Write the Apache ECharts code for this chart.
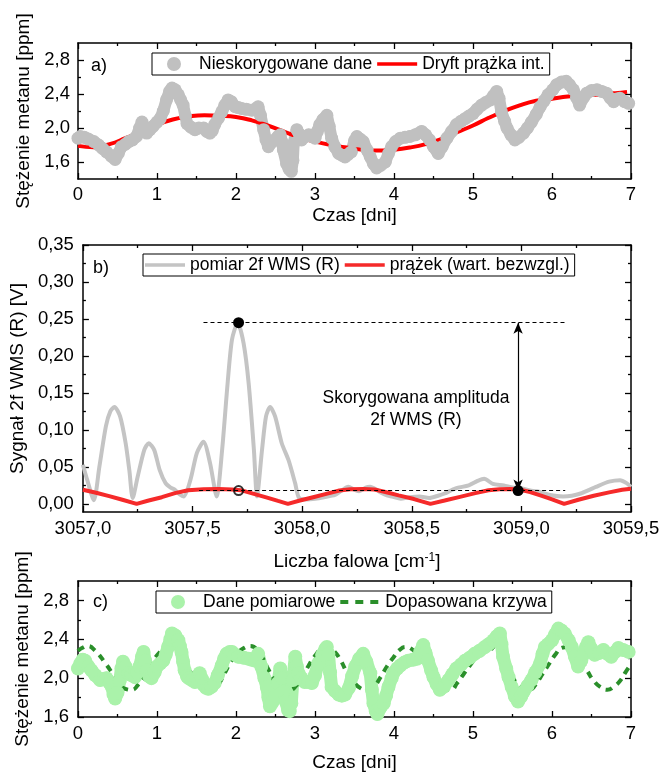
<!DOCTYPE html>
<html>
<head>
<meta charset="utf-8">
<script src="https://cdn.jsdelivr.net/npm/echarts@6/dist/echarts.min.js"></script>
<style>
  html, body { margin: 0; padding: 0; background: #fff; }
  #chart { width: 664px; height: 773px; }
</style>
</head>
<body>
<div id="chart"></div>
<script>
const FONT = '"Liberation Sans", Arial, Helvetica, sans-serif';

// ---- (a) uncorrected methane concentration vs. time [day, ppm]
const rawPpm = [
  [0.00,1.88],[0.03,1.90],[0.08,1.89],[0.13,1.87],[0.20,1.84],[0.26,1.80],[0.31,1.76],[0.36,1.72],
  [0.42,1.67],[0.47,1.63],[0.51,1.70],[0.55,1.78],[0.60,1.81],[0.64,1.84],[0.69,1.86],[0.74,1.90],
  [0.78,2.00],[0.81,2.07],[0.84,2.00],[0.87,1.94],[0.91,1.98],[0.95,2.02],[1.00,2.07],[1.04,2.11],
  [1.08,2.20],[1.12,2.33],[1.16,2.43],[1.19,2.47],[1.23,2.45],[1.27,2.39],[1.30,2.33],[1.33,2.27],
  [1.36,2.14],[1.38,2.05],[1.43,2.01],[1.48,1.98],[1.53,2.00],[1.59,2.00],[1.63,1.96],[1.67,1.94],
  [1.70,1.97],[1.73,2.04],[1.78,2.12],[1.82,2.19],[1.86,2.27],[1.90,2.33],[1.94,2.31],[1.99,2.25],
  [2.03,2.24],[2.07,2.23],[2.13,2.22],[2.20,2.21],[2.24,2.22],[2.28,2.25],[2.31,2.15],[2.35,1.98],
  [2.38,1.86],[2.41,1.78],[2.45,1.83],[2.49,1.86],[2.53,1.90],[2.56,1.92],[2.58,1.84],[2.60,1.74],
  [2.64,1.58],[2.67,1.52],[2.70,1.49],[2.72,1.62],[2.73,1.82],[2.77,1.98],[2.80,1.93],[2.83,1.86],
  [2.88,1.90],[2.92,1.92],[2.96,1.90],[3.00,1.88],[3.03,1.96],[3.06,2.04],[3.10,2.10],[3.15,2.15],
  [3.18,2.02],[3.21,1.88],[3.25,1.78],[3.30,1.70],[3.34,1.68],[3.38,1.66],[3.42,1.69],[3.46,1.72],
  [3.50,1.85],[3.53,1.90],[3.57,1.87],[3.61,1.84],[3.66,1.74],[3.70,1.66],[3.74,1.58],[3.78,1.53],
  [3.83,1.56],[3.89,1.60],[3.93,1.70],[3.97,1.78],[4.02,1.84],[4.08,1.88],[4.14,1.89],[4.20,1.90],
  [4.27,1.92],[4.35,1.96],[4.40,1.92],[4.45,1.86],[4.50,1.78],[4.56,1.70],[4.61,1.78],[4.67,1.88],
  [4.73,1.96],[4.79,2.04],[4.85,2.08],[4.90,2.11],[4.95,2.14],[5.00,2.17],[5.05,2.22],[5.11,2.27],
  [5.16,2.30],[5.22,2.33],[5.26,2.38],[5.30,2.43],[5.33,2.35],[5.36,2.19],[5.40,2.08],[5.43,2.00],
  [5.48,1.92],[5.53,1.86],[5.58,1.89],[5.64,1.94],[5.69,2.00],[5.74,2.07],[5.80,2.16],[5.85,2.25],
  [5.90,2.32],[5.95,2.39],[6.01,2.45],[6.06,2.51],[6.12,2.54],[6.18,2.55],[6.22,2.51],[6.27,2.45],
  [6.31,2.36],[6.35,2.27],[6.40,2.36],[6.44,2.41],[6.50,2.44],[6.57,2.45],[6.63,2.43],[6.69,2.41],
  [6.74,2.35],[6.78,2.31],[6.82,2.34],[6.86,2.35],[6.92,2.31],[6.97,2.29]
];

// ---- (a) interferometric fringe drift [day, ppm]
const fringeDrift = [
  [0.0,1.79],[0.2,1.775],[0.4,1.81],[0.6,1.88],[0.8,1.96],[1.0,2.04],[1.2,2.10],[1.4,2.135],
  [1.6,2.15],[1.8,2.145],[2.0,2.13],[2.2,2.09],[2.4,2.03],[2.6,1.96],[2.8,1.89],[3.0,1.84],
  [3.2,1.80],[3.4,1.77],[3.6,1.745],[3.8,1.735],[4.0,1.745],[4.2,1.77],[4.4,1.81],[4.6,1.87],
  [4.8,1.95],[5.0,2.03],[5.2,2.12],[5.4,2.20],[5.6,2.27],[5.8,2.32],[6.0,2.345],[6.2,2.37],
  [6.4,2.385],[6.6,2.395],[6.8,2.41],[6.95,2.425]
];

// ---- (b) measured 2f WMS (R) signal [cm-1, V]
const wmsSignal = [
  [3057.00,0.053],[3057.02,0.032],[3057.05,0.005],[3057.075,0.050],[3057.105,0.105],[3057.125,0.125],
  [3057.144,0.131],[3057.17,0.118],[3057.195,0.082],[3057.212,0.045],[3057.227,0.008],[3057.25,0.037],
  [3057.28,0.073],[3057.30,0.082],[3057.325,0.073],[3057.35,0.046],[3057.377,0.028],[3057.40,0.022],
  [3057.42,0.019],[3057.44,0.013],[3057.46,0.010],[3057.49,0.032],[3057.52,0.069],[3057.55,0.084],
  [3057.58,0.055],[3057.61,0.010],[3057.635,0.073],[3057.66,0.163],[3057.68,0.222],[3057.706,0.245],
  [3057.733,0.217],[3057.756,0.163],[3057.78,0.073],[3057.794,0.010],[3057.817,0.073],[3057.835,0.118],
  [3057.854,0.131],[3057.877,0.118],[3057.907,0.082],[3057.938,0.059],[3057.968,0.028],[3057.986,0.008],
  [3058.02,0.006],[3058.06,0.007],[3058.10,0.009],[3058.15,0.012],[3058.18,0.018],[3058.21,0.023],
  [3058.24,0.019],[3058.26,0.017],[3058.29,0.022],[3058.31,0.023],[3058.34,0.019],[3058.36,0.015],
  [3058.39,0.011],[3058.41,0.010],[3058.45,0.007],[3058.49,0.009],[3058.535,0.010],[3058.58,0.008],
  [3058.62,0.011],[3058.65,0.014],[3058.70,0.021],[3058.76,0.025],[3058.80,0.031],[3058.83,0.034],
  [3058.87,0.027],[3058.92,0.025],[3058.96,0.022],[3059.00,0.021],[3059.04,0.018],[3059.07,0.017],
  [3059.13,0.012],[3059.19,0.010],[3059.23,0.011],[3059.27,0.014],[3059.31,0.019],[3059.34,0.023],
  [3059.40,0.030],[3059.45,0.032],[3059.48,0.028],[3059.50,0.023]
];

// ---- (b) fringe, absolute value [cm-1, V]
const fringeAbs = [
  [3057.00,0.019],[3057.06,0.015],[3057.12,0.0105],[3057.18,0.0055],[3057.245,0],[3057.30,0.0045],
  [3057.36,0.009],[3057.42,0.0145],[3057.48,0.0185],[3057.55,0.0198],[3057.62,0.020],[3057.68,0.0195],
  [3057.72,0.0185],[3057.78,0.0135],[3057.84,0.0085],[3057.89,0.004],[3057.935,0],[3057.99,0.0045],
  [3058.05,0.009],[3058.11,0.0135],[3058.17,0.018],[3058.22,0.0198],[3058.28,0.020],[3058.33,0.0195],
  [3058.38,0.016],[3058.44,0.0115],[3058.51,0.0065],[3058.585,0],[3058.65,0.0045],[3058.72,0.0095],
  [3058.79,0.0145],[3058.85,0.0185],[3058.90,0.0198],[3058.95,0.020],[3058.99,0.0195],[3059.04,0.016],
  [3059.09,0.011],[3059.14,0.006],[3059.195,0],[3059.26,0.0055],[3059.33,0.011],[3059.40,0.0155],
  [3059.46,0.019],[3059.50,0.0205]
];

// ---- (b) annotation: WMS peak, fringe level, corrected amplitude
const peakPoint = [3057.71, 0.245];
const fringeAtPeak = [3057.71, 0.018];
const fringePoint = [3058.985, 0.018];
const guideStart = [3057.55, 3057.53];   // start of the upper / lower dashed guides
const guideEnd = 3059.2;

// ---- (c) corrected measurement data [day, ppm]
const measuredPpm = [
  [0.00,2.10],[0.03,2.15],[0.06,2.19],[0.09,2.18],[0.13,2.12],[0.17,2.08],[0.22,2.03],[0.28,1.98],
  [0.32,1.99],[0.36,2.00],[0.40,1.95],[0.43,1.91],[0.45,1.83],[0.47,1.79],[0.50,1.85],[0.53,1.98],
  [0.55,2.10],[0.57,2.17],[0.60,2.12],[0.64,2.05],[0.68,2.03],[0.72,2.01],[0.75,2.06],[0.78,2.12],
  [0.81,2.22],[0.83,2.27],[0.85,2.18],[0.87,2.08],[0.90,2.02],[0.93,2.00],[0.97,2.06],[1.00,2.12],
  [1.04,2.15],[1.08,2.18],[1.11,2.24],[1.14,2.32],[1.17,2.40],[1.19,2.46],[1.23,2.44],[1.27,2.39],
  [1.29,2.33],[1.31,2.27],[1.33,2.17],[1.35,2.08],[1.38,2.02],[1.40,2.00],[1.44,1.98],[1.48,1.96],
  [1.51,2.00],[1.54,2.05],[1.57,1.99],[1.59,1.93],[1.62,1.90],[1.65,1.89],[1.69,1.91],[1.73,1.95],
  [1.77,2.03],[1.82,2.13],[1.85,2.20],[1.88,2.25],[1.92,2.27],[1.95,2.27],[1.99,2.24],[2.03,2.22],
  [2.10,2.21],[2.16,2.20],[2.20,2.19],[2.24,2.18],[2.28,2.25],[2.32,2.12],[2.36,2.00],[2.39,1.91],
  [2.41,1.80],[2.43,1.71],[2.46,1.75],[2.50,1.81],[2.53,1.95],[2.56,2.10],[2.58,2.00],[2.60,1.86],
  [2.63,1.76],[2.66,1.67],[2.68,1.66],[2.70,1.74],[2.72,1.98],[2.75,2.22],[2.77,2.12],[2.79,2.05],
  [2.83,2.00],[2.87,1.96],[2.92,1.96],[2.96,1.95],[3.00,2.03],[3.04,2.15],[3.09,2.24],[3.13,2.30],
  [3.15,2.32],[3.17,2.25],[3.19,2.06],[3.21,1.91],[3.25,1.87],[3.30,1.83],[3.34,1.82],[3.38,1.83],
  [3.43,1.90],[3.47,2.02],[3.51,2.12],[3.56,2.20],[3.61,2.25],[3.65,2.17],[3.70,2.05],[3.72,1.88],
  [3.74,1.74],[3.77,1.66],[3.79,1.63],[3.83,1.70],[3.87,1.74],[3.90,1.82],[3.93,1.91],[3.97,2.00],
  [3.99,2.05],[4.04,2.10],[4.08,2.13],[4.13,2.16],[4.18,2.18],[4.24,2.19],[4.29,2.20],[4.33,2.27],
  [4.37,2.34],[4.40,2.26],[4.43,2.18],[4.47,2.08],[4.50,2.01],[4.54,1.94],[4.58,1.88],[4.63,1.91],
  [4.69,1.98],[4.74,2.04],[4.79,2.10],[4.85,2.14],[4.90,2.18],[4.96,2.21],[5.02,2.25],[5.08,2.28],
  [5.15,2.32],[5.20,2.35],[5.26,2.39],[5.30,2.43],[5.34,2.46],[5.36,2.35],[5.38,2.22],[5.42,2.10],
  [5.45,2.01],[5.49,1.91],[5.53,1.81],[5.57,1.76],[5.61,1.81],[5.64,1.86],[5.69,1.92],[5.74,1.98],
  [5.79,2.06],[5.85,2.15],[5.88,2.25],[5.91,2.32],[5.95,2.35],[6.00,2.39],[6.04,2.45],[6.08,2.51],
  [6.12,2.49],[6.16,2.46],[6.21,2.39],[6.25,2.32],[6.29,2.22],[6.33,2.12],[6.37,2.18],[6.40,2.25],
  [6.43,2.32],[6.46,2.37],[6.50,2.30],[6.54,2.24],[6.60,2.26],[6.65,2.29],[6.70,2.25],[6.75,2.22],
  [6.80,2.27],[6.84,2.31],[6.90,2.29],[6.97,2.27]
];

// ---- (c) fitted curve [day, ppm]
const fittedPpm = [
  [0.00,2.28],[0.05,2.31],[0.12,2.33],[0.22,2.28],[0.34,2.16],[0.45,2.03],[0.53,1.93],[0.60,1.89],
  [0.68,1.88],[0.76,1.93],[0.84,2.02],[0.93,2.15],[1.04,2.27],[1.12,2.32],[1.19,2.32],[1.31,2.21],
  [1.42,2.07],[1.52,1.96],[1.61,1.89],[1.69,1.88],[1.77,1.93],[1.85,2.04],[1.93,2.16],[2.01,2.25],
  [2.10,2.31],[2.18,2.33],[2.30,2.25],[2.41,2.09],[2.49,1.97],[2.58,1.90],[2.68,1.88],[2.76,1.92],
  [2.84,2.01],[2.92,2.13],[3.00,2.23],[3.08,2.30],[3.16,2.32],[3.24,2.28],[3.32,2.19],[3.41,2.05],
  [3.49,1.96],[3.57,1.90],[3.65,1.88],[3.75,1.92],[3.83,2.01],[3.91,2.12],[3.99,2.21],[4.07,2.29],
  [4.15,2.32],[4.24,2.29],[4.33,2.21],[4.41,2.11],[4.48,2.02],[4.56,1.93],[4.64,1.88],[4.72,1.88],
  [4.80,1.95],[4.88,2.04],[4.97,2.14],[5.06,2.23],[5.15,2.29],[5.22,2.31],[5.30,2.27],[5.38,2.18],
  [5.46,2.06],[5.55,1.95],[5.63,1.89],[5.71,1.88],[5.79,1.93],[5.87,2.03],[5.95,2.13],[6.04,2.24],
  [6.12,2.31],[6.20,2.32],[6.28,2.28],[6.36,2.19],[6.45,2.07],[6.53,1.97],[6.61,1.91],[6.70,1.88],
  [6.78,1.91],[6.86,1.97],[6.93,2.06],[6.98,2.12]
];

// ---- tick positions
const dayMajor = [0, 1, 2, 3, 4, 5, 6, 7];
const dayMinor = [0.5, 1.5, 2.5, 3.5, 4.5, 5.5, 6.5];
const ppmMajor = [1.6, 2.0, 2.4, 2.8];
const ppmMinor = [1.8, 2.2, 2.6];
const wnMajor = [3057.0, 3057.5, 3058.0, 3058.5, 3059.0, 3059.5];
const wnMinor = [3057.25, 3057.75, 3058.25, 3058.75, 3059.25];
const sigMajor = [0, 0.05, 0.10, 0.15, 0.20, 0.25, 0.30, 0.35];
const sigMinor = [0.025, 0.075, 0.125, 0.175, 0.225, 0.275, 0.325];

const comma = d => v => v.toFixed(d).replace('.', ',');

// Four axes per side pair: labelled major, minor ticks, mirrored major, mirrored minor
function boxAxes(isX, grid, min, max, major, minor, labelCfg, nameCfg) {
  const base = { type: 'value', gridIndex: grid, min: min, max: max, silent: true,
                 splitLine: { show: false } };
  const line = { show: true, onZero: false, lineStyle: { color: '#000', width: 1.5 } };
  const mk = (pos, vals, len, showLine, label) => Object.assign({}, base, {
    position: pos,
    axisLine: showLine ? line : { show: false, onZero: false },
    axisTick: { show: true, inside: true, length: len, customValues: vals,
                lineStyle: { color: '#000', width: 1.3 } },
    axisLabel: label ? Object.assign({ customValues: vals, color: '#000',
                fontFamily: FONT, fontSize: 18.5 }, label) : { show: false }
  });
  const p0 = isX ? 'bottom' : 'left';
  const p1 = isX ? 'top' : 'right';
  const main = Object.assign(mk(p0, major, 6, true, labelCfg), nameCfg);
  return [main, mk(p0, minor, 3, false), mk(p1, major, 6, true), mk(p1, minor, 3, false)];
}

const nameStyle = { fontFamily: FONT, fontSize: 19, color: '#000' };

const xAxes = [].concat(
  boxAxes(true, 0, 0, 7, dayMajor, dayMinor, { formatter: comma(0), margin: 6 },
    { name: 'Czas [dni]', nameLocation: 'middle', nameGap: 27, nameTextStyle: nameStyle }),
  boxAxes(true, 1, 3057, 3059.5, wnMajor, wnMinor, { formatter: comma(1), margin: 7 },
    { name: 'Liczba falowa [cm{sup|-1}]', nameLocation: 'middle', nameGap: 40,
      nameTextStyle: Object.assign({ rich: { sup: { fontFamily: FONT, fontSize: 12,
        color: '#000', verticalAlign: 'top', lineHeight: 12 } } }, nameStyle) }),
  boxAxes(true, 2, 0, 7, dayMajor, dayMinor, { formatter: comma(0), margin: 7 },
    { name: 'Czas [dni]', nameLocation: 'middle', nameGap: 36, nameTextStyle: nameStyle })
);

const yAxes = [].concat(
  boxAxes(false, 0, 1.4, 3.0, ppmMajor, ppmMinor, { formatter: comma(1), margin: 8 },
    { name: 'Stężenie metanu [ppm]', nameLocation: 'middle', nameGap: 35, nameTextStyle: nameStyle }),
  boxAxes(false, 1, -0.011, 0.35, sigMajor, sigMinor, { formatter: comma(2), margin: 9 },
    { name: 'Sygnał 2f WMS (R) [V]', nameLocation: 'middle', nameGap: 47, nameTextStyle: nameStyle }),
  boxAxes(false, 2, 1.6, 3.0, ppmMajor, ppmMinor, { formatter: comma(1), margin: 9 },
    { name: 'Stężenie metanu [ppm]', nameLocation: 'middle', nameGap: 35, nameTextStyle: nameStyle })
);

// Legend icons drawn in a 40x14 box; the corner specks fix the box size so the
// marks keep their own size and stay centred.
const PAD = 'M0,0L0.01,0L0.01,0.01Z M39.99,14L40,14L40,13.99Z ';
const solidIcon = 'path://' + PAD + 'M0,5.2L40,5.2L40,8.8L0,8.8Z';
const dashedIcon = 'path://' + PAD + 'M0,5L8,5L8,9L0,9Z M15,5L23,5L23,9L15,9Z M30,5L38,5L38,9L30,9Z';
const dotIcon = 'path://' + PAD + 'M13,7A7,7 0 1,0 27,7A7,7 0 1,0 13,7Z';

const legendBase = {
  orient: 'horizontal', itemWidth: 40, itemHeight: 14, itemGap: 5,
  borderColor: '#000', borderWidth: 1, borderRadius: 0, padding: [2, 5, 2, 2],
  textStyle: { fontFamily: FONT, fontSize: 17.5, color: '#000' },
  selectedMode: false
};

const grayDots = { color: '#c0c0c0' };
const greenDots = { color: '#aaf2aa' };

const option = {
  animation: false,
  backgroundColor: '#fff',
  grid: [
    { left: 78, top: 43, width: 553, height: 136 },
    { left: 80, top: 245, width: 551, height: 267 },
    { left: 78, top: 581, width: 553, height: 136 }
  ],
  xAxis: xAxes,
  yAxis: yAxes,
  legend: [
    Object.assign({}, legendBase, { left: 152, top: 53,
      data: [{ name: 'Nieskorygowane dane', icon: dotIcon },
             { name: 'Dryft prążka int.', icon: solidIcon }] }),
    Object.assign({}, legendBase, { left: 143, top: 254,
      data: [{ name: 'pomiar 2f WMS (R)', icon: solidIcon },
             { name: 'prążek (wart. bezwzgl.)', icon: solidIcon }] }),
    Object.assign({}, legendBase, { left: 156, top: 591,
      data: [{ name: 'Dane pomiarowe', icon: dotIcon },
             { name: 'Dopasowana krzywa', icon: dashedIcon }] })
  ],
  series: [
    { type: 'line', name: 'Nieskorygowane dane', xAxisIndex: 0, yAxisIndex: 0, data: rawPpm,
      symbol: 'circle', symbolSize: 13, showAllSymbol: true, itemStyle: grayDots,
      lineStyle: { color: '#c0c0c0', width: 12, cap: 'round', join: 'round' } },
    { type: 'line', name: 'Dryft prążka int.', xAxisIndex: 0, yAxisIndex: 0, data: fringeDrift,
      smooth: true, symbol: 'none', itemStyle: { color: '#ff0000' },
      lineStyle: { color: '#ff0000', width: 4 } },

    { type: 'line', name: 'pomiar 2f WMS (R)', xAxisIndex: 4, yAxisIndex: 4, data: wmsSignal,
      smooth: 0.25, symbol: 'none', itemStyle: { color: '#c4c4c4' },
      lineStyle: { color: '#c4c4c4', width: 4 } },
    { type: 'line', name: 'prążek (wart. bezwzgl.)', xAxisIndex: 4, yAxisIndex: 4, data: fringeAbs,
      symbol: 'none', itemStyle: { color: '#f52a2a' },
      lineStyle: { color: '#f52a2a', width: 4 } },
    { type: 'scatter', xAxisIndex: 4, yAxisIndex: 4, data: [fringeAtPeak], z: 5,
      symbol: 'circle', symbolSize: 9,
      itemStyle: { color: 'rgba(255,255,255,0)', borderColor: '#000', borderWidth: 2 } },
    { type: 'scatter', xAxisIndex: 4, yAxisIndex: 4, data: [peakPoint, fringePoint], z: 6,
      symbol: 'circle', symbolSize: 11, itemStyle: { color: '#000', opacity: 1 },
      markLine: {
        silent: true, symbol: 'none', label: { show: false },
        lineStyle: { color: '#000', width: 1.2, type: [4, 3] },
        data: [
          [{ coord: [guideStart[0], peakPoint[1]] }, { coord: [guideEnd, peakPoint[1]] }],
          [{ coord: [guideStart[1], fringePoint[1]] }, { coord: [guideEnd, fringePoint[1]] }],
          [{ coord: [fringePoint[0], peakPoint[1]], symbol: 'arrow', symbolSize: [7, 11],
             lineStyle: { type: 'solid', width: 1.2 } },
           { coord: [fringePoint[0], fringePoint[1]], symbol: 'arrow', symbolSize: [7, 11] }]
        ]
      } },

    { type: 'line', name: 'Dane pomiarowe', xAxisIndex: 8, yAxisIndex: 8, data: measuredPpm,
      symbol: 'circle', symbolSize: 14, showAllSymbol: true, itemStyle: greenDots,
      lineStyle: { color: '#aaf2aa', width: 13, cap: 'round', join: 'round' } },
    { type: 'line', name: 'Dopasowana krzywa', xAxisIndex: 8, yAxisIndex: 8, data: fittedPpm,
      smooth: true, symbol: 'none', z: 3, itemStyle: { color: '#2a8f2a' },
      lineStyle: { color: '#2a8f2a', width: 4, type: [7, 6] } }
  ],
  graphic: [
    { type: 'text', left: 91, top: 57, style: { text: 'a)', font: '18px ' + FONT, fill: '#000' } },
    { type: 'text', left: 93, top: 259, style: { text: 'b)', font: '18px ' + FONT, fill: '#000' } },
    { type: 'text', left: 93, top: 593, style: { text: 'c)', font: '18px ' + FONT, fill: '#000' } },
    { type: 'text', x: 416, y: 387, style: { text: 'Skorygowana amplituda\n2f WMS (R)',
      font: '17.5px ' + FONT, fill: '#000', align: 'center', lineHeight: 22 } }
  ]
};

const chart = echarts.init(document.getElementById('chart'), null, { renderer: 'canvas' });
chart.setOption(option);
</script>
</body>
</html>
